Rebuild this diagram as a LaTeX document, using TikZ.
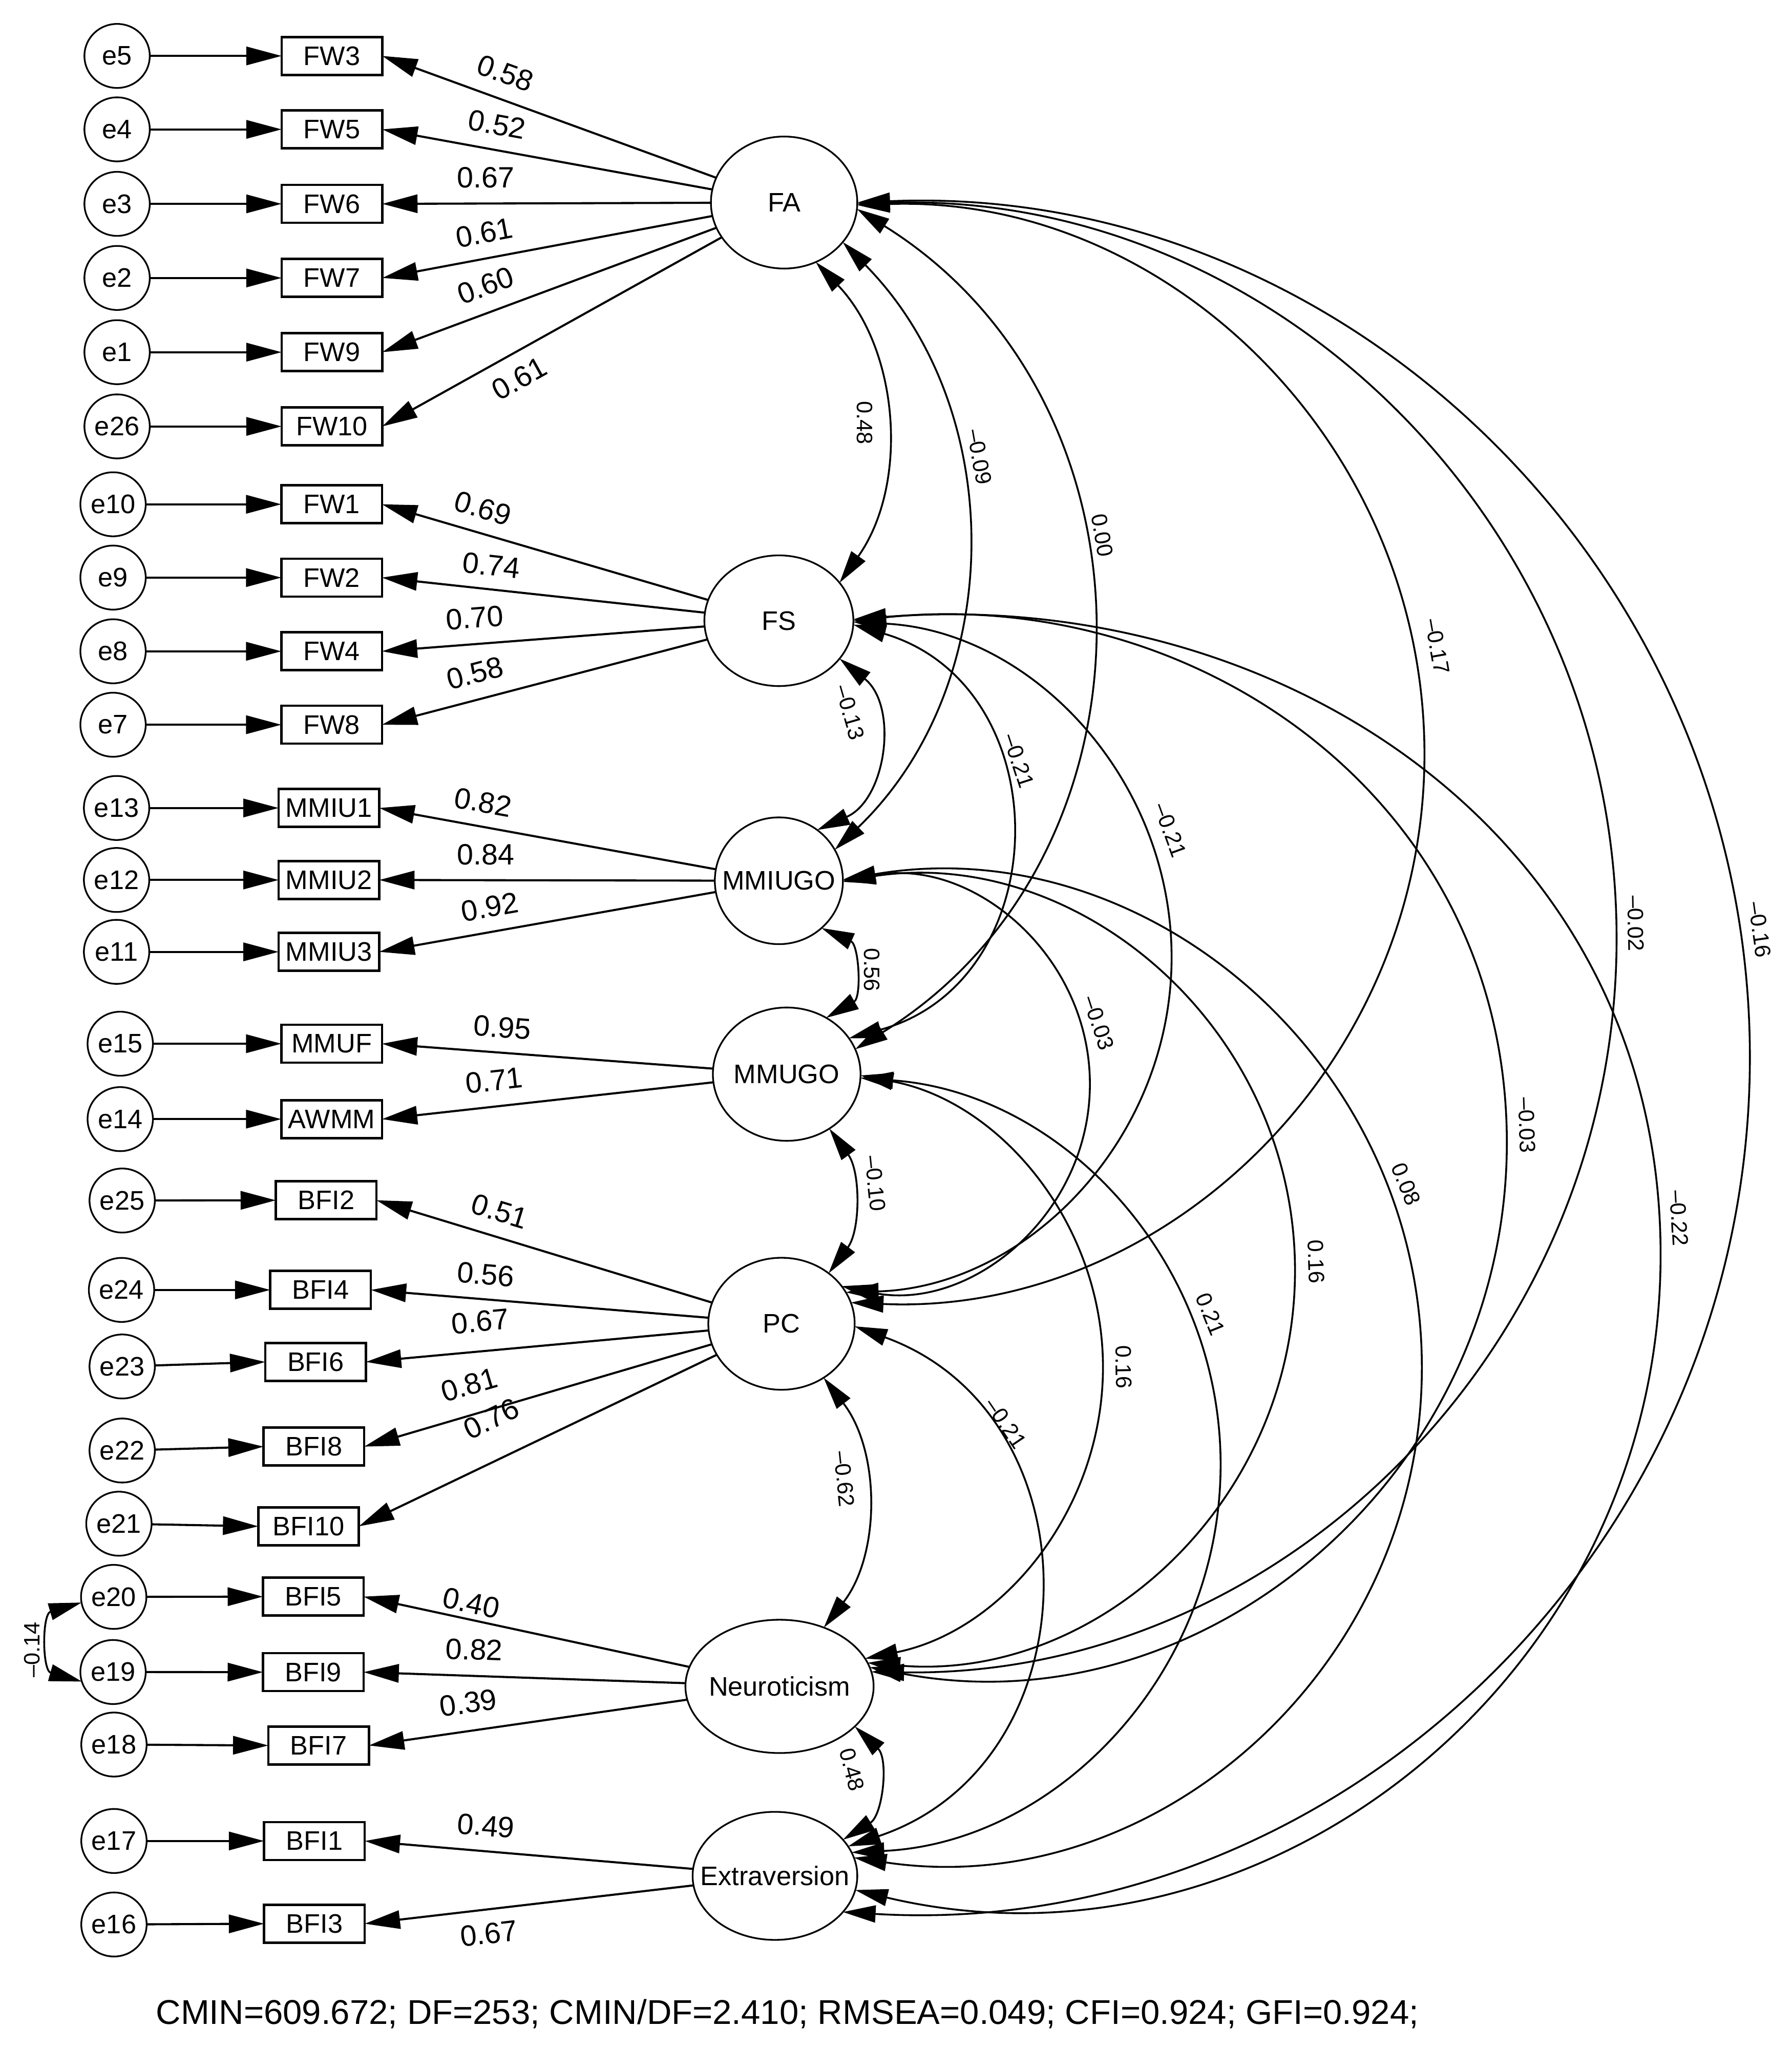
\documentclass[tikz,border=0pt]{standalone}
\usepackage{fontspec}
\setmainfont{Liberation Sans}
\usetikzlibrary{arrows.meta,shapes.geometric}
\newcommand{\ndfont}{\fontsize{10.25}{12}\selectfont}
\newcommand{\wtfont}{\fontsize{11.25}{13}\selectfont}
\newcommand{\cvfont}{\fontsize{8.5}{10}\selectfont}
\newcommand{\ftfont}{\fontsize{13.15}{15}\selectfont}
\newcommand{\zbox}[1]{\makebox[0pt]{#1}}
\begin{document}
\begin{tikzpicture}[x=0.5pt,y=0.5pt,
  err/.style={draw, ellipse, line width=0.65pt, minimum width=25pt, minimum height=24.5pt, inner sep=0pt, outer sep=0pt, font=\ndfont},
  obs/.style={draw, rectangle, line width=0.9pt, minimum width=38.5pt, minimum height=14.5pt, inner sep=0pt, outer sep=0pt, font=\ndfont},
  lat/.style={draw, ellipse, line width=0.65pt, inner sep=0pt, outer sep=0pt, font=\ndfont},
  load/.style={line width=0.8pt, -{Triangle[length=13.5pt,width=7pt]}},
  cov/.style={line width=0.7pt, {Triangle[length=12.5pt,width=6.5pt]}-{Triangle[length=12.5pt,width=6.5pt]}},
  wlab/.style={font=\wtfont, inner sep=0pt},
  clab/.style={font=\cvfont, inner sep=0pt}]
\useasboundingbox (0,0) rectangle (1371,-1568);

% latent variables
\node[lat, minimum width=56pt, minimum height=50.5pt] (FA) at (600,-155) {\zbox{FA}};
\node[lat, minimum width=57pt, minimum height=50pt] (FS) at (596,-475) {\zbox{FS}};
\node[lat, minimum width=49pt, minimum height=48.5pt] (MMIUGO) at (596,-674) {\zbox{MMIUGO}};
\node[lat, minimum width=56.5pt, minimum height=51pt] (MMUGO) at (602,-822) {\zbox{MMUGO}};
\node[lat, minimum width=56pt, minimum height=50.5pt] (PC) at (598,-1013) {\zbox{PC}};
\node[lat, minimum width=72pt, minimum height=51pt] (Neur) at (596.5,-1290.5) {\zbox{Neuroticism}};
\node[lat, minimum width=63pt, minimum height=49pt] (Extra) at (593,-1435.5) {\zbox{Extraversion}};

% observed variables
\node[obs] (FW3) at (254,-42.8) {FW3};
\node[obs] (FW5) at (254,-99) {FW5};
\node[obs] (FW6) at (254,-156) {FW6};
\node[obs] (FW7) at (254,-212.7) {FW7};
\node[obs] (FW9) at (254,-269.5) {FW9};
\node[obs] (FW10) at (254,-326.3) {FW10};
\node[obs] (FW1) at (253.8,-385.9) {FW1};
\node[obs] (FW2) at (253.8,-442) {FW2};
\node[obs] (FW4) at (253.8,-498.4) {FW4};
\node[obs] (FW8) at (253.8,-554.6) {FW8};
\node[obs] (MMIU1) at (251.7,-618.3) {MMIU1};
\node[obs] (MMIU2) at (251.7,-673.4) {MMIU2};
\node[obs] (MMIU3) at (251.7,-728.4) {MMIU3};
\node[obs] (MMUF) at (253.8,-798.7) {MMUF};
\node[obs] (AWMM) at (253.8,-856.4) {AWMM};
\node[obs] (BFI2) at (249.6,-918.5) {BFI2};
\node[obs] (BFI4) at (245.3,-987.1) {BFI4};
\node[obs] (BFI6) at (241.5,-1042.2) {BFI6};
\node[obs] (BFI8) at (240.2,-1107) {BFI8};
\node[obs] (BFI10) at (236.1,-1168) {BFI10};
\node[obs] (BFI5) at (239.7,-1221.8) {BFI5};
\node[obs] (BFI9) at (239.7,-1279.6) {BFI9};
\node[obs] (BFI7) at (243.8,-1335.7) {BFI7};
\node[obs] (BFI1) at (240.6,-1408.8) {BFI1};
\node[obs] (BFI3) at (240.6,-1472.1) {BFI3};

% error terms
\node[err] (e5) at (89.6,-42.8) {\zbox{e5}};
\node[err] (e4) at (89.6,-99) {\zbox{e4}};
\node[err] (e3) at (89.6,-156) {\zbox{e3}};
\node[err] (e2) at (89.6,-212.7) {\zbox{e2}};
\node[err] (e1) at (89.6,-269.5) {\zbox{e1}};
\node[err] (e26) at (89.6,-326.3) {\zbox{e26}};
\node[err] (e10) at (86.5,-385.9) {\zbox{e10}};
\node[err] (e9) at (86.5,-442) {\zbox{e9}};
\node[err] (e8) at (86.5,-498.4) {\zbox{e8}};
\node[err] (e7) at (86.5,-554.6) {\zbox{e7}};
\node[err] (e13) at (89.2,-618.3) {\zbox{e13}};
\node[err] (e12) at (89.2,-673.4) {\zbox{e12}};
\node[err] (e11) at (89.2,-728.4) {\zbox{e11}};
\node[err] (e15) at (92,-798.7) {\zbox{e15}};
\node[err] (e14) at (92,-856.4) {\zbox{e14}};
\node[err] (e25) at (93.5,-918.7) {\zbox{e25}};
\node[err] (e24) at (93,-987.1) {\zbox{e24}};
\node[err] (e23) at (93.5,-1045.7) {\zbox{e23}};
\node[err] (e22) at (93.5,-1110) {\zbox{e22}};
\node[err] (e21) at (91,-1166) {\zbox{e21}};
\node[err] (e20) at (87,-1222) {\zbox{e20}};
\node[err] (e19) at (86.5,-1279.5) {\zbox{e19}};
\node[err] (e18) at (87.2,-1335) {\zbox{e18}};
\node[err] (e17) at (87.2,-1408.8) {\zbox{e17}};
\node[err] (e16) at (87.2,-1472.7) {\zbox{e16}};

% error -> indicator
\foreach \e/\o in {e5/FW3,e4/FW5,e3/FW6,e2/FW7,e1/FW9,e26/FW10,e10/FW1,e9/FW2,e8/FW4,e7/FW8,e13/MMIU1,e12/MMIU2,e11/MMIU3,e15/MMUF,e14/AWMM,e25/BFI2,e24/BFI4,e23/BFI6,e22/BFI8,e21/BFI10,e20/BFI5,e19/BFI9,e18/BFI7,e17/BFI1,e16/BFI3}
  \draw[load] (\e) -- (\o.west);

% loadings
\foreach \l/\o in {FA/FW3,FA/FW5,FA/FW6,FA/FW7,FA/FW9,FA/FW10,FS/FW1,FS/FW2,FS/FW4,FS/FW8,MMIUGO/MMIU1,MMIUGO/MMIU2,MMIUGO/MMIU3,MMUGO/MMUF,MMUGO/AWMM,PC/BFI2,PC/BFI4,PC/BFI6,PC/BFI8,PC/BFI10,Neur/BFI5,Neur/BFI9,Neur/BFI7,Extra/BFI1,Extra/BFI3}
  \draw[load] (\l) -- (\o.east);

% loading labels
\node[wlab, rotate=-20] (lFW3) at (386.6,-56) {0.58};
\node[wlab, rotate=-10.3] (lFW5) at (380.3,-95.3) {0.52};
\node[wlab] (lFW6) at (371.7,-135.7) {0.67};
\node[wlab, rotate=10.6] (lFW7) at (370.5,-178.2) {0.61};
\node[wlab, rotate=20.4] (lFW9) at (371.7,-218.5) {0.60};
\node[wlab, rotate=29.1] (lFW10) at (397.2,-289.7) {0.61};
\node[wlab, rotate=-16.3] (lFW1) at (369.6,-388.9) {0.69};
\node[wlab, rotate=-6.2] (lFW2) at (376,-432.7) {0.74};
\node[wlab, rotate=4.4] (lFW4) at (363.3,-472.7) {0.70};
\node[wlab, rotate=14.7] (lFW8) at (363.3,-515.2) {0.58};
\node[wlab, rotate=-10.3] (lMMIU1) at (369.6,-614) {0.82};
\node[wlab] (lMMIU2) at (371.7,-654) {0.84};
\node[wlab, rotate=10.1] (lMMIU3) at (374.7,-694) {0.92};
\node[wlab, rotate=-4.3] (lMMUF) at (384.5,-786.3) {0.95};
\node[wlab, rotate=6.3] (lAWMM) at (378.1,-826.8) {0.71};
\node[wlab, rotate=-17] (lBFI2) at (382.4,-927) {0.51};
\node[wlab, rotate=-4.7] (lBFI4) at (371.7,-975.3) {0.56};
\node[wlab, rotate=5.3] (lBFI6) at (367.5,-1011.3) {0.67};
\node[wlab, rotate=16.4] (lBFI8) at (359,-1059.7) {0.81};
\node[wlab, rotate=25.7] (lBFI10) at (376,-1085.6) {0.76};
\node[wlab, rotate=-12.2] (lBFI5) at (360.5,-1226.7) {0.40};
\node[wlab, rotate=-2] (lBFI9) at (362.8,-1262.4) {0.82};
\node[wlab, rotate=8.2] (lBFI7) at (358.3,-1303.1) {0.39};
\node[wlab, rotate=-4.9] (lBFI1) at (371.8,-1397.2) {0.49};
\node[wlab, rotate=6.7] (lBFI3) at (374,-1479.6) {0.67};

% covariances (small arcs: one cubic; large arcs: two cubics through the farthest point)
\draw[cov] (FA.-62) .. controls +(-46.3:92.5) and +(54.7:92.5) .. (FS.32);
\draw[cov] (FA.-34) .. controls +(-45.4:182) and +(43.8:182) .. (MMIUGO.29);
\draw[cov] (FA.-5) .. controls +(-31.9:280.7) and +(31.7:280.7) .. (MMUGO.20);
\draw[cov] (FA.-2) .. controls +(1.9:238.4) and +(89.7:238.4) .. (1090,-579.5)
                   .. controls +(-90.3:238.4) and +(-2.5:238.4) .. (PC.17);
\draw[cov] (FA.-1) .. controls +(1.9:315.7) and +(90.6:315.7) .. (1237,-712.2)
                   .. controls +(-89.4:315.7) and +(-0.9:315.7) .. (Neur.9);
\draw[cov] (FA.0) .. controls +(2.4:374.8) and +(89.5:374.8) .. (1339,-814.9)
                  .. controls +(-90.5:374.8) and +(-3.4:374.8) .. (Extra.-28);
\draw[cov] (FS.-32) .. controls +(-38.7:58) and +(23.9:58) .. (MMIUGO.53);
\draw[cov] (FS.-3) .. controls +(-16.4:165.8) and +(15.2:165.8) .. (MMUGO.30);
\draw[cov] (FS.-1) .. controls +(-2.9:137.8) and +(89.4:137.8) .. (896.5,-735.3)
                   .. controls +(-90.6:137.8) and +(1.7:137.8) .. (PC.26);
\draw[cov] (FS.0) .. controls +(6:260) and +(90.9:260) .. (1153,-867.7)
                  .. controls +(-89.1:260) and +(-11:260) .. (Neur.12);
\draw[cov] (FS.1) .. controls +(4.5:323.4) and +(90.1:323.4) .. (1270.7,-959.3)
                  .. controls +(-89.9:323.4) and +(-13.4:323.4) .. (Extra.-10);
\draw[cov] (MMIUGO.-48) .. controls +(-24:31.5) and +(30:31.5) .. (MMUGO.55);
\draw[cov] (MMIUGO.-1) .. controls +(11.4:99.9) and +(89.8:99.9) .. (834,-830.2)
                       .. controls +(-90.2:99.9) and +(-11.8:99.9) .. (PC.32);
\draw[cov] (MMIUGO.0) .. controls +(8.5:180.5) and +(91.8:180.5) .. (990.8,-962.7)
                      .. controls +(-88.2:180.5) and +(-4.9:180.5) .. (Neur.15);
\draw[cov] (MMIUGO.1) .. controls +(9.7:233.3) and +(90.6:233.3) .. (1088,-1042.4)
                      .. controls +(-89.4:233.3) and +(-8.5:233.3) .. (Extra.13);
\draw[cov] (MMUGO.-52) .. controls +(-53.9:40.9) and +(53.3:40.9) .. (PC.47);
\draw[cov] (MMUGO.-1) .. controls +(-10.6:108.8) and +(90.4:108.8) .. (844,-1044.7)
                      .. controls +(-89.6:108.8) and +(11.4:108.8) .. (Neur.18);
\draw[cov] (MMUGO.-3) .. controls +(-4.1:157.1) and +(89.3:157.1) .. (934,-1124.5)
                      .. controls +(-90.7:157.1) and +(2.7:157.1) .. (Extra.17);
\draw[cov] (PC.-52) .. controls +(-52.3:71.1) and +(52.3:71.1) .. (Neur.53);
\draw[cov] (PC.-2) .. controls +(-19.9:199.6) and +(18.5:199.6) .. (Extra.22);
\draw[cov] (Neur.-28) .. controls +(-43.7:36) and +(31.7:36) .. (Extra.28);
\draw[cov] (e20.190) .. controls +(-163.7:31.6) and +(164.3:31.6) .. (e19.197);

% covariance labels
\node[clab, rotate=-90] (c1) at (661.5,-323.6) {0.48};
\node[clab, rotate=-80] (c2) at (749.5,-349.6) {\textendash0.09};
\node[clab, rotate=-80] (c3) at (843.5,-409.6) {0.00};
\node[clab, rotate=-80] (c4) at (1099.9,-494.6) {\textendash0.17};
\node[clab, rotate=-89] (c5) at (1251.6,-706.7) {\textendash0.02};
\node[clab, rotate=-82] (c6) at (1346.6,-711.4) {\textendash0.16};
\node[clab, rotate=-74] (c7) at (650.5,-545.1) {\textendash0.13};
\node[clab, rotate=-72] (c8) at (779.5,-582.1) {\textendash0.21};
\node[clab, rotate=-70] (c9) at (895.5,-635.1) {\textendash0.21};
\node[clab, rotate=-88] (c10) at (1168.5,-861) {\textendash0.03};
\node[clab, rotate=-87] (c11) at (1284.8,-932.2) {\textendash0.22};
\node[clab, rotate=-90] (c12) at (667,-742) {0.56};
\node[clab, rotate=-72] (c13) at (840.8,-782.7) {\textendash0.03};
\node[clab, rotate=-88] (c14) at (1007,-965.5) {0.16};
\node[clab, rotate=-68] (c15) at (1075.9,-906.1) {0.08};
\node[clab, rotate=-84] (c16) at (669.8,-905.5) {\textendash0.10};
\node[clab, rotate=-89] (c17) at (859.8,-1046.2) {0.16};
\node[clab, rotate=-68] (c18) at (926.3,-1005.8) {0.21};
\node[clab, rotate=-84] (c19) at (646.1,-1131.7) {\textendash0.62};
\node[clab, rotate=-56] (c20) at (769.6,-1089) {\textendash0.21};
\node[clab, rotate=-75] (c21) at (652,-1354) {0.48};
\node[clab, rotate=90] (c22) at (24.4,-1262.4) {\textendash0.14};

% fit statistics
\node[font=\ftfont, inner sep=0pt, anchor=base] (fit) at (602.5,-1549) {CMIN=609.672; DF=253; CMIN/DF=2.410; RMSEA=0.049; CFI=0.924; GFI=0.924;};
\end{tikzpicture}
\end{document}
